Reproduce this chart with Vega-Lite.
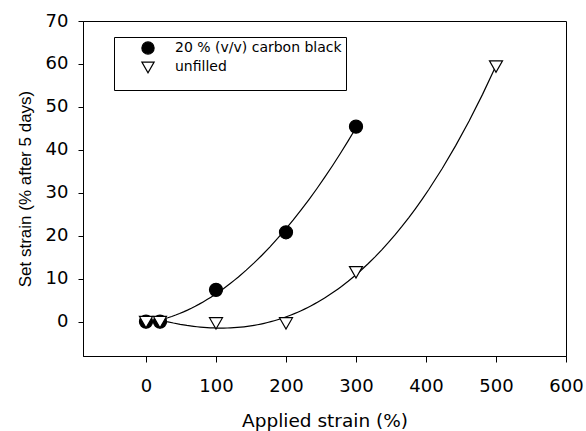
{
  "$schema": "https://vega.github.io/schema/vega-lite/v6.json",
  "width": 483,
  "height": 335,
  "autosize": "none",
  "padding": {"left": 83, "top": 21, "right": 20, "bottom": 75},
  "background": "white",
  "config": {
    "view": {"stroke": "black", "strokeWidth": 1},
    "font": "DejaVu Sans",
    "axis": {
      "grid": false,
      "domainColor": "black",
      "tickColor": "black",
      "labelColor": "black",
      "titleColor": "black",
      "labelFont": "DejaVu Sans",
      "titleFont": "DejaVu Sans",
      "labelFontSize": 18,
      "titleFontSize": 18.5,
      "titleFontWeight": "normal",
      "tickSize": 6,
      "labelFlush": false,
      "labelOverlap": false
    },
    "legend": {
      "orient": "none",
      "legendX": 31,
      "legendY": 16,
      "strokeColor": "black",
      "fillColor": "white",
      "padding": 4,
      "symbolOffset": 23,
      "labelFontSize": 14,
      "labelLimit": 400,
      "labelFont": "DejaVu Sans",
      "labelColor": "black",
      "labelOffset": 20,
      "rowPadding": 2,
      "symbolSize": 150,
      "symbolStrokeColor": "black",
      "symbolStrokeWidth": 1.2,
      "titleOrient": "bottom",
      "titleFontSize": 11,
      "titlePadding": 0,
      "titleLimit": 400,
      "titleFont": "DejaVu Sans"
    }
  },
  "data": {
    "values": [
      {"series": "20 % (v/v) carbon black", "x": 0, "y": 0},
      {"series": "20 % (v/v) carbon black", "x": 20, "y": 0},
      {"series": "20 % (v/v) carbon black", "x": 100, "y": 7.4},
      {"series": "20 % (v/v) carbon black", "x": 200, "y": 20.8},
      {"series": "20 % (v/v) carbon black", "x": 300, "y": 45.4},
      {"series": "unfilled", "x": 0, "y": 0},
      {"series": "unfilled", "x": 20, "y": 0},
      {"series": "unfilled", "x": 100, "y": -0.3},
      {"series": "unfilled", "x": 200, "y": -0.3},
      {"series": "unfilled", "x": 300, "y": 11.6},
      {"series": "unfilled", "x": 500, "y": 59.5}
    ]
  },
  "layer": [
    {
      "transform": [
        {"filter": "datum.x > 0 && datum.series == '20 % (v/v) carbon black'"},
        {"regression": "y", "on": "x", "method": "poly", "order": 2}
      ],
      "mark": {"type": "line", "color": "black", "strokeWidth": 1.2, "clip": true},
      "encoding": {
        "x": {"field": "x", "type": "quantitative"},
        "y": {"field": "y", "type": "quantitative"}
      }
    },
    {
      "transform": [
        {"filter": "datum.x > 0 && datum.series == 'unfilled'"},
        {"regression": "y", "on": "x", "method": "poly", "order": 3}
      ],
      "mark": {"type": "line", "color": "black", "strokeWidth": 1.2, "clip": true},
      "encoding": {
        "x": {"field": "x", "type": "quantitative"},
        "y": {"field": "y", "type": "quantitative"}
      }
    },
    {
      "transform": [{"filter": "datum.series == '20 % (v/v) carbon black'"}],
      "mark": {"type": "point", "filled": true, "fill": "black", "stroke": "black", "strokeWidth": 1.2, "opacity": 1, "size": 170},
      "encoding": {
        "x": {
          "field": "x", "type": "quantitative",
          "scale": {"domain": [-90, 600], "nice": false, "zero": false},
          "axis": {"values": [0, 100, 200, 300, 400, 500, 600], "title": "Applied strain (%)", "labelPadding": 15, "titlePadding": 16}
        },
        "y": {
          "field": "y", "type": "quantitative",
          "scale": {"domain": [-8, 70], "nice": false, "zero": false},
          "axis": {"values": [0, 10, 20, 30, 40, 50, 60, 70], "title": "Set strain (% after 5 days)", "titleFont": "Liberation Sans", "titleFontSize": 17, "tickSize": 5, "labelPadding": 10, "titlePadding": 11}
        },
        "shape": {
          "field": "series", "type": "nominal",
          "scale": {"domain": ["20 % (v/v) carbon black", "unfilled"], "range": ["circle", "M-1,-0.8L1,-0.8L0,0.95Z"]},
          "legend": {
            "title": "\u00a0",
            "encoding": {
              "symbols": {
                "stroke": {"value": "black"},
                "strokeWidth": {"value": 1.2},
                "opacity": {"value": 1},
                "fill": {"condition": {"test": "datum.value === 'unfilled'", "value": "white"}, "value": "black"}
              }
            }
          }
        }
      }
    },
    {
      "transform": [{"filter": "datum.series == 'unfilled'"}],
      "mark": {"type": "point", "filled": true, "fill": "white", "stroke": "black", "strokeWidth": 1.2, "opacity": 1, "size": 170},
      "encoding": {
        "x": {"field": "x", "type": "quantitative"},
        "y": {"field": "y", "type": "quantitative"},
        "shape": {"field": "series", "type": "nominal"}
      }
    }
  ]
}
